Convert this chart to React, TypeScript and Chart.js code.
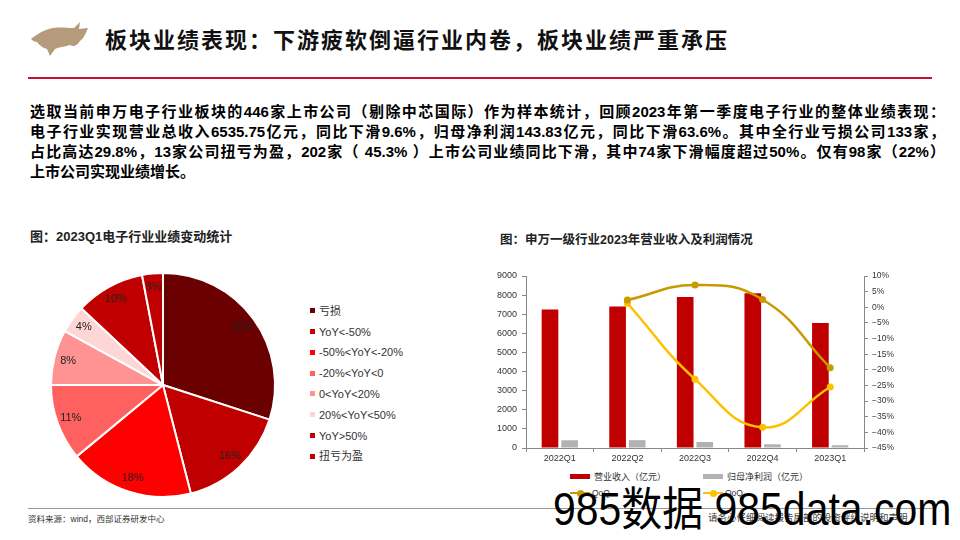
import React, { useEffect, useRef } from 'react';
import { Chart, registerables } from 'chart.js';

Chart.register(...registerables);

// ---------- Data ----------
const pieLabels = ['亏损', 'YoY<-50%', '-50%<YoY<-20%', '-20%<YoY<0', '0<YoY<20%', '20%<YoY<50%', 'YoY>50%', '扭亏为盈'];
const pieShares = [30, 16, 18, 11, 8, 4, 10, 3];
const pieColors = ['#6b0000', '#c00000', '#ff0000', '#ff6161', '#ff9393', '#ffd6d6', '#c00000', '#c00000'];

const quarters = ['2022Q1', '2022Q2', '2022Q3', '2022Q4', '2023Q1'];
const revenue = [7250, 7400, 7900, 8100, 6535.75];
const netProfit = [405, 410, 315, 195, 143.83];
const revenueQoQ = [null, 2.3, 7.1, 2.5, -19.3];
const profitQoQ = [null, 1.3, -23.0, -38.4, -25.5];

const seriesNames = ['营业收入（亿元）', '归母净利润（亿元）', 'QoQ', 'QoQ'];
const seriesColors = ['#c00000', '#b2b2b2', '#c99a00', '#ffc000'];

const paragraphLines = [
  '选取当前申万电子行业板块的446家上市公司（剔除中芯国际）作为样本统计，回顾2023年第一季度电子行业的整体业绩表现：',
  '电子行业实现营业总收入6535.75亿元，同比下滑9.6%，归母净利润143.83亿元，同比下滑63.6%。其中全行业亏损公司133家，',
  '占比高达29.8%，13家公司扭亏为盈，202家（ 45.3% ）上市公司业绩同比下滑，其中74家下滑幅度超过50%。仅有98家（22%）',
  '上市公司实现业绩增长。',
];

const FONT = '"Liberation Sans", Arial, "Noto Sans CJK SC", sans-serif';

function PieChart() {
  const ref = useRef<HTMLCanvasElement>(null);
  useEffect(() => {
    const labelPlugin = {
      id: 'sliceLabels',
      afterDatasetsDraw(chart: any) {
        const ctx = chart.ctx;
        const meta = chart.getDatasetMeta(0);
        ctx.save();
        ctx.font = '11px ' + FONT;
        ctx.fillStyle = '#222';
        ctx.textAlign = 'center';
        ctx.textBaseline = 'middle';
        meta.data.forEach((arc: any, i: number) => {
          const p = arc.getProps(['x', 'y', 'startAngle', 'endAngle', 'outerRadius'], true);
          const mid = (p.startAngle + p.endAngle) / 2;
          const d = p.outerRadius * 0.875;
          ctx.fillText(pieShares[i] + '%', p.x + Math.cos(mid) * d, p.y + Math.sin(mid) * d);
        });
        ctx.restore();
      },
    };
    const chart = new Chart(ref.current as HTMLCanvasElement, {
      type: 'pie',
      data: {
        labels: pieLabels,
        datasets: [{ data: pieShares, backgroundColor: pieColors, borderColor: '#ffffff', borderWidth: 2 }],
      },
      options: {
        animation: false,
        responsive: false,
        layout: { padding: 7 },
        plugins: { legend: { display: false }, tooltip: { enabled: false } },
      },
      plugins: [labelPlugin],
    } as any);
    return () => chart.destroy();
  }, []);
  return (
    <canvas
      ref={ref}
      width={240}
      height={240}
      style={{ position: 'absolute', left: 43, top: 265, width: 240, height: 240 }}
    />
  );
}

function ComboChart() {
  const ref = useRef<HTMLCanvasElement>(null);
  useEffect(() => {
    const tickFont = { family: FONT, size: 9 };
    const chart = new Chart(ref.current as HTMLCanvasElement, {
      type: 'bar',
      data: {
        labels: quarters,
        datasets: [
          {
            type: 'line', label: seriesNames[2], data: revenueQoQ, yAxisID: 'y1',
            borderColor: seriesColors[2], backgroundColor: seriesColors[2], borderWidth: 2.5,
            pointRadius: 3.5, pointBorderWidth: 0, pointBackgroundColor: seriesColors[2],
            tension: 0.45, order: 1,
          },
          {
            type: 'line', label: seriesNames[3], data: profitQoQ, yAxisID: 'y1',
            borderColor: seriesColors[3], backgroundColor: seriesColors[3], borderWidth: 2.5,
            pointRadius: 3.5, pointBorderWidth: 0, pointBackgroundColor: seriesColors[3],
            tension: 0.45, order: 1,
          },
          {
            type: 'bar', label: seriesNames[0], data: revenue, yAxisID: 'y',
            backgroundColor: seriesColors[0], categoryPercentage: 0.58, barPercentage: 0.85, order: 2,
          },
          {
            type: 'bar', label: seriesNames[1], data: netProfit, yAxisID: 'y',
            backgroundColor: seriesColors[1], categoryPercentage: 0.58, barPercentage: 0.85, order: 2,
          },
        ],
      },
      options: {
        animation: false,
        responsive: false,
        layout: { padding: { top: 11, left: 0, right: 0, bottom: 0 } },
        plugins: { legend: { display: false }, tooltip: { enabled: false } },
        scales: {
          x: {
            grid: { display: true, drawOnChartArea: false, tickLength: 4, color: '#888', offset: true },
            border: { color: '#888' },
            ticks: { font: tickFont, color: '#333', padding: 1, maxRotation: 0 },
            afterFit(s: any) { s.height = 20; },
          },
          y: {
            position: 'left', min: 0, max: 9000,
            grid: { drawOnChartArea: false, tickLength: 4, color: '#888' },
            border: { color: '#888' },
            ticks: {
              stepSize: 1000, autoSkip: false, font: tickFont, color: '#333', padding: 5,
              callback: (v: any) => String(v),
            },
            afterFit(s: any) { s.width = 56; },
          },
          y1: {
            position: 'right', min: -45, max: 10,
            grid: { drawOnChartArea: false, tickLength: 4, color: '#888' },
            border: { color: '#888' },
            ticks: {
              stepSize: 5, autoSkip: false, font: { family: FONT, size: 8.5 }, color: '#333', padding: 4,
              callback: (v: any) => (v < 0 ? '\u2212' + Math.abs(v) : String(v)) + '%',
            },
            afterFit(s: any) { s.width = 46; },
          },
        },
      },
    } as any);
    return () => chart.destroy();
  }, []);
  return (
    <canvas
      ref={ref}
      width={440}
      height={203}
      style={{ position: 'absolute', left: 470, top: 265, width: 440, height: 203 }}
    />
  );
}

function Bull() {
  return (
    <svg width={70} height={45} viewBox="0 0 70 45" style={{ position: 'absolute', left: 25, top: 16 }}>
      <path
        d="M6,23 C10,20 15,16 21,14 C30,10 41,12 49,12 L55,6 L54,13 L63,12 C61,17 59,22 55,25 C52,30 48,31 45,29 C39,31 34,31 30,33 L25,40 L22,33 C18,32 14,29 12,26 C10,26 8,25 6,23 Z"
        fill="#b59a7c"
      />
    </svg>
  );
}

export default function App() {
  const abs = (x: number, y: number, extra: any = {}) => ({ position: 'absolute' as const, left: x, top: y, ...extra });
  return (
    <div style={{ position: 'absolute', left: 0, top: 0, width: 960, height: 540, background: '#fff', overflow: 'hidden', fontFamily: FONT }}>
      <Bull />
      <div style={abs(105, 27, { fontSize: 22, lineHeight: '22px', fontWeight: 700, letterSpacing: 2, color: '#111', whiteSpace: 'nowrap', fontFamily: '"Noto Sans CJK SC", sans-serif' })}>
        板块业绩表现：下游疲软倒逼行业内卷，板块业绩严重承压
      </div>
      <div style={abs(28, 77, { width: 904, height: 2, background: '#c8102e' })} />

      <div style={abs(30, 102, { width: 915, fontSize: 15, lineHeight: '20px', fontWeight: 700, color: '#000' })}>
        {paragraphLines.map((l, i) => (
          <div key={i} style={{ textAlign: 'justify', textAlignLast: i < paragraphLines.length - 1 ? 'justify' : 'left', whiteSpace: 'nowrap' }}>{l}</div>
        ))}
      </div>

      <div style={abs(30, 229, { fontSize: 13, lineHeight: '16px', fontWeight: 700, color: '#222', whiteSpace: 'nowrap' })}>
        图：2023Q1电子行业业绩变动统计
      </div>
      <PieChart />
      {pieLabels.map((l, i) => (
        <div key={l} style={abs(310, 310.7 + i * 20.8 - 8, { height: 16, display: 'flex', alignItems: 'center', whiteSpace: 'nowrap' })}>
          <span style={{ display: 'inline-block', width: 5, height: 5, background: pieColors[i], marginRight: 4 }} />
          <span style={{ fontSize: 11, color: '#333', lineHeight: '16px' }}>{l}</span>
        </div>
      ))}

      <div style={abs(500, 232, { fontSize: 12.5, lineHeight: '16px', fontWeight: 700, color: '#222', whiteSpace: 'nowrap' })}>
        图：申万一级行业2023年营业收入及利润情况
      </div>
      <ComboChart />
      {[0, 1].map((i) => (
        <div key={'b' + i} style={abs(570 + i * 133, 469, { height: 14, display: 'flex', alignItems: 'center', whiteSpace: 'nowrap' })}>
          <span style={{ display: 'inline-block', width: 20, height: 5, background: seriesColors[i], marginRight: 4 }} />
          <span style={{ fontSize: 9, color: '#333', fontFamily: '"Noto Sans CJK SC", sans-serif' }}>{seriesNames[i]}</span>
        </div>
      ))}
      {[2, 3].map((i) => (
        <div key={'l' + i} style={abs(570 + (i - 2) * 133, 486, { height: 14, display: 'flex', alignItems: 'center', whiteSpace: 'nowrap' })}>
          <span style={{ position: 'relative', display: 'inline-block', width: 20, height: 8, marginRight: 2 }}>
            <span style={{ position: 'absolute', left: 0, top: 3, width: 20, height: 2, background: seriesColors[i] }} />
            <span style={{ position: 'absolute', left: 6.5, top: 0.5, width: 7, height: 7, borderRadius: 4, background: seriesColors[i] }} />
          </span>
          <span style={{ fontSize: 8.5, color: '#333' }}>{seriesNames[i]}</span>
        </div>
      ))}

      <div style={abs(28, 508, { width: 904, height: 1, background: '#999' })} />
      <div style={abs(28, 514, { fontSize: 8.5, lineHeight: '10px', color: '#333', whiteSpace: 'nowrap' })}>
        资料来源：wind，西部证券研发中心
      </div>
      <div style={abs(708, 512, { fontSize: 9.5, lineHeight: '11px', color: '#444', whiteSpace: 'nowrap' })}>
        请务必仔细阅读报告尾部的投资评级说明和声明
      </div>
      <div style={abs(553, 486, { fontSize: 46, lineHeight: '46px', color: '#000', whiteSpace: 'nowrap', transform: 'scaleX(0.89)', transformOrigin: 'left top' })}>
        985数据 985data.com
      </div>
    </div>
  );
}
